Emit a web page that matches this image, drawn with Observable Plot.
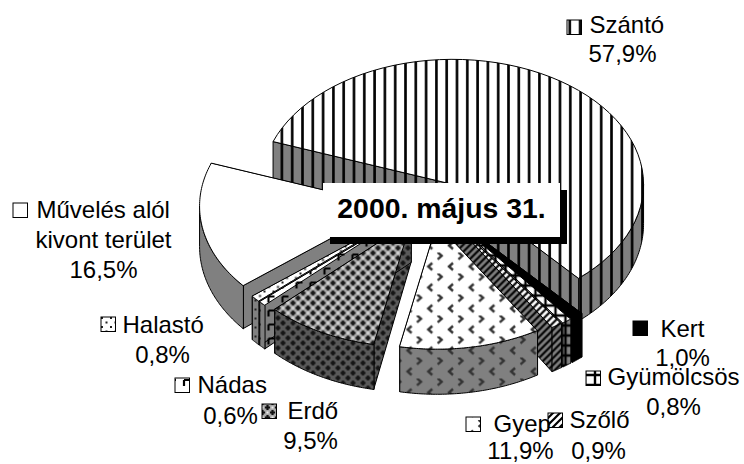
<!DOCTYPE html>
<html>
<head>
<meta charset="utf-8">
<script src="https://cdn.jsdelivr.net/npm/d3@7"></script>
<script src="https://cdn.jsdelivr.net/npm/@observablehq/plot@0.6"></script>
<style>html,body{margin:0;padding:0;background:#fff}svg{display:block}</style>
</head>
<body>
<div id="chart"></div>
<script>
// ---- data
const categories = ["Szántó","Kert","Gyümölcsös","Szőlő","Gyep","Erdő","Nádas","Halastó","Művelés alól kivont terület"];
const shares = [57.9,1.0,0.8,0.9,11.9,9.5,0.6,0.8,16.5];
const title = "2000. május 31.";

// ---- layout (separate from the data)
const W = 744, H = 464;
const START = -70;                // clock angle of the first slice, degrees
const O = [429.5, 202], RX = 191, RY = 125, EX = 40, EY = 22;
const patternIds = ["szanto","kert","gyum","szolo","gyep","erdo","nadas","halasto","muveles"];
const drawOrder = [0,8,1,2,3,7,6,5,4];
const labelLayout = [
  {key:[567,20], lines:[[589,32,"start"]], pct:[622,61]},
  {key:[633,321], lines:[[660,336,"start"]], pct:[682,365]},
  {key:[586,371], lines:[[607,384,"start"]], pct:[673,414]},
  {key:[548,413], lines:[[569,427,"start"]], pct:[598,458]},
  {key:[466,417], lines:[[493,431,"start"]], pct:[520,458.5]},
  {key:[262,404], lines:[[287,418,"start"]], pct:[310,448]},
  {key:[175,378], lines:[[197,392,"start"]], pct:[230,423]},
  {key:[101,317], lines:[[122,332,"start"]], pct:[162,362]},
  {key:[13,203], lines:[[36,217,"start"],[103,247,"middle"]], pct:[103,277]}
];
const nameLines = categories.map(c => c.startsWith("Művelés") ? ["Művelés alól","kivont terület"] : [c]);

// ---- geometry from the shares
const rad = d => d * Math.PI / 180;
const total = d3.sum(shares);
let acc = START;
const slices = shares.map((s,i) => {
  const a0 = acc, a1 = acc + s / total * 360; acc = a1;
  const mid = rad((a0 + a1) / 2);
  return {i, a0, a1, cx: O[0] + EX * Math.sin(mid), cy: O[1] - EY * Math.cos(mid)};
});
const depth = y => 38 + 0.034 * (y - 139);
const rim = (s,a) => ({x: s.cx + RX * Math.sin(rad(a)), y: s.cy - RY * Math.cos(rad(a))});
const drop = p => ({x: p.x, y: p.y + depth(p.y)});
const arcPts = (s,a0,a1) => d3.range(0,61).map(k => rim(s, a0 + (a1 - a0) * k / 60));

function marksFor(s) {
  const id = patternIds[s.i];
  const apex = {x: s.cx, y: s.cy};
  const face = (pts, fill) => Plot.line(pts, {x:"x", y:"y", curve:"linear-closed", fill, stroke:"#000", strokeWidth:1});
  const sideFill = `url(#${id}-side)`, topFill = `url(#${id})`;
  const out = [];
  // cut faces
  for (const a of [s.a0, s.a1]) {
    const p = rim(s,a);
    out.push(face([apex, p, drop(p), drop(apex)], sideFill));
  }
  // outer wall: only the near half of the rim (clock angles 90..270 modulo 360)
  const segs = [];
  for (const k of [-1,0,1]) {
    const lo = Math.max(s.a0, 90 + 360*k), hi = Math.min(s.a1, 270 + 360*k);
    if (hi > lo) segs.push([lo,hi]);
  }
  for (const [lo,hi] of segs) {
    const top = arcPts(s,lo,hi);
    out.push(face([...top, ...top.slice().reverse().map(drop)], sideFill));
  }
  // top
  out.push(face([apex, ...arcPts(s,s.a0,s.a1)], topFill));
  return out;
}

// ---- patterns
function defsMark() {
  const ns = "http://www.w3.org/2000/svg";
  const defs = document.createElementNS(ns,"defs");
  const tile = (id,w,h,bg,inner) => `<pattern id="${id}" patternUnits="userSpaceOnUse" width="${w}" height="${h}"><rect width="${w}" height="${h}" fill="${bg}"/>${inner}</pattern>`;
  const pair = (id,w,h,inner,topBg="#fff") => tile(id,w,h,topBg,inner) + tile(id+"-side",w,h,"#808080",inner);
  const vert = `<rect x="2" width="2.6" height="10.3" fill="#000"/>`;
  const cross = (x,y) => `<path d="M${x-2.6} ${y}H${x+2.6}M${x} ${y-2.6}V${y+2.6}" stroke="#111" stroke-width="2.2"/>`;
  const chev = (x,y,d) => `<path d="M${x+d*2.5} ${y-3.5}L${x-d*1.5} ${y}L${x+d*2.5} ${y+3.5}" fill="none" stroke="#333" stroke-width="2.4"/>`;
  const erdoDot = (x,y)=>`<rect x="${x-1}" y="${y-1}" width="2" height="2" fill="#eee"/>`;
  defs.innerHTML =
    pair("szanto",10.3,10.3,vert) +
    tile("kert",8,8,"#000","") + tile("kert-side",8,8,"#000","") +
    pair("gyum",10,10,`<path d="M0 5H10M5 0V10" stroke="#000" stroke-width="2.4"/>`) +
    pair("szolo",7,7,`<path d="M-1 1L1 -1M0 7L7 0M6 8L8 6" stroke="#000" stroke-width="2.2"/>`) +
    pair("gyep",20.7,21,chev(5,3.3,-1)+chev(15.3,14,1)) +
    tile("erdo",10,10,"#a8a8a8",cross(2.5,2.5)+cross(7.5,7.5)+erdoDot(7.5,2.5)+erdoDot(2.5,7.5)) +
    tile("erdo-side",10,10,"#5a5a5a",cross(2.5,2.5)+cross(7.5,7.5)) +
    pair("nadas",14,14,`<path d="M2 2H8M2 2V8" stroke="#000" stroke-width="2.2"/>`) +
    pair("halasto",9,9,`<rect x="2" y="2" width="2" height="2" fill="#222"/><rect x="6.5" y="6.5" width="2" height="2" fill="#222"/>`) +
    tile("muveles",8,8,"#fff","") + tile("muveles-side",8,8,"#808080","");
  return defs;
}

// ---- labels
const pctText = shares.map(v => v.toFixed(1).replace(".",",") + "%");
const FONT = "Liberation Sans";
const textRows = [];
labelLayout.forEach((l,i) => {
  l.lines.forEach((ln,j) => textRows.push({x:ln[0], y:ln[1], t:nameLines[i][j], a:ln[2]}));
  textRows.push({x:l.pct[0], y:l.pct[1], t:pctText[i], a:"middle"});
});
const textMark = anchor => Plot.text(textRows.filter(d => d.a === anchor), {
  x:"x", y:"y", text:"t", textAnchor:anchor, lineAnchor:"bottom",
  fontSize:24, fontFamily:FONT, fill:"#000"
});

const KEY = 14.5;
const keyMarks = labelLayout.map((l,i) => Plot.rect([l.key], {
  x1:d=>d[0], x2:d=>d[0]+KEY, y1:d=>d[1], y2:d=>d[1]+KEY,
  fill:`url(#${patternIds[i]})`, stroke:"#000", strokeWidth:1
}));

const box = {x1:323, x2:560, y1:183, y2:237};
const SHADOW = 7;
const plot = Plot.plot({
  width:W, height:H, margin:0,
  x:{domain:[0,W], range:[0,W], axis:null},
  y:{domain:[0,H], range:[0,H], axis:null},
  style:{background:"#fff"},
  marks:[
    defsMark,
    ...drawOrder.flatMap(i => marksFor(slices[i])),
    Plot.rect([box], {x1:d=>d.x1+SHADOW, x2:d=>d.x2+SHADOW, y1:d=>d.y1+SHADOW, y2:d=>d.y2+SHADOW, fill:"#000"}),
    Plot.rect([box], {x1:"x1", x2:"x2", y1:"y1", y2:"y2", fill:"#fff"}),
    Plot.text([title], {x:()=>441, y:()=>217, text:d=>d, fontSize:28.4, fontWeight:"bold", fontFamily:FONT, textAnchor:"middle", lineAnchor:"bottom", fill:"#000"}),
    ...keyMarks,
    textMark("start"),
    textMark("middle")
  ]
});
document.getElementById("chart").append(plot);
</script>
</body>
</html>
